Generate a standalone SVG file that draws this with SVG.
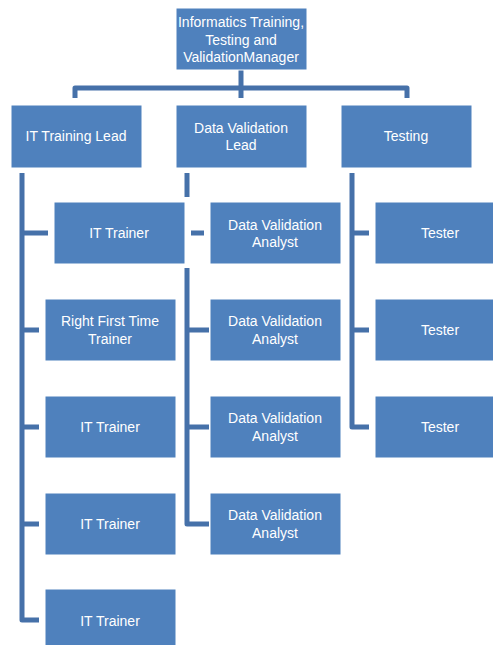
<svg xmlns="http://www.w3.org/2000/svg" width="493" height="645" viewBox="0 0 493 645">
<style>
.box{fill:#4f81bd;stroke:#ffffff;stroke-width:1}
.lbl{fill:#ffffff;font-family:"Liberation Sans",Arial,sans-serif;font-size:14px;text-anchor:middle}
.con{fill:none;stroke:#4671a9;stroke-width:5;stroke-linejoin:round}
</style>
<rect width="493" height="645" fill="#ffffff"/>
<g id="connectors">
<path class="con" d="M75,98 V88 H407 V98"/>
<path class="con" d="M241,70 V98"/>
<path class="con" d="M22,173 V620 H39"/>
<path class="con" d="M22,233 H48 M22,330 H39 M22,427 H39 M22,524 H39"/>
<path class="con" d="M187,173 V197"/>
<path class="con" d="M187,268 V524 H209"/>
<path class="con" d="M187,330 H209 M187,427 H209 M191,233 H204"/>
<path class="con" d="M352,173 V427 H369"/>
<path class="con" d="M352,233 H369 M352,330 H369"/>
</g>
<g id="manager"><rect class="box" x="176" y="8" width="131" height="62"/>
<text class="lbl" x="241" y="27">Informatics Training,</text><text class="lbl" x="241" y="45">Testing and</text><text class="lbl" x="241" y="62">ValidationManager</text></g>
<g id="it-lead"><rect class="box" x="11" y="105" width="131" height="63"/><text class="lbl" x="76" y="141">IT Training Lead</text></g>
<g id="dv-lead"><rect class="box" x="176" y="105" width="131" height="63"/><text class="lbl" x="241" y="133">Data Validation</text><text class="lbl" x="241" y="150">Lead</text></g>
<g id="testing"><rect class="box" x="341" y="105" width="131" height="63"/><text class="lbl" x="406" y="141">Testing</text></g>
<g id="it-trainer-1"><rect class="box" x="54" y="202" width="131" height="62"/><text class="lbl" x="119" y="238">IT Trainer</text></g>
<g id="rft-trainer"><rect class="box" x="45" y="299" width="131" height="62"/><text class="lbl" x="110" y="326">Right First Time</text><text class="lbl" x="110" y="344">Trainer</text></g>
<g id="it-trainer-2"><rect class="box" x="45" y="396" width="131" height="62"/><text class="lbl" x="110" y="432">IT Trainer</text></g>
<g id="it-trainer-3"><rect class="box" x="45" y="493" width="131" height="62"/><text class="lbl" x="110" y="529">IT Trainer</text></g>
<g id="it-trainer-4"><rect class="box" x="45" y="589" width="131" height="62"/><text class="lbl" x="110" y="626">IT Trainer</text></g>
<g id="dva-1"><rect class="box" x="210" y="202" width="131" height="62"/><text class="lbl" x="275" y="230">Data Validation</text><text class="lbl" x="275" y="247">Analyst</text></g>
<g id="dva-2"><rect class="box" x="210" y="299" width="131" height="62"/><text class="lbl" x="275" y="326">Data Validation</text><text class="lbl" x="275" y="344">Analyst</text></g>
<g id="dva-3"><rect class="box" x="210" y="396" width="131" height="62"/><text class="lbl" x="275" y="423">Data Validation</text><text class="lbl" x="275" y="441">Analyst</text></g>
<g id="dva-4"><rect class="box" x="210" y="493" width="131" height="62"/><text class="lbl" x="275" y="520">Data Validation</text><text class="lbl" x="275" y="538">Analyst</text></g>
<g id="tester-1"><rect class="box" x="375" y="202" width="131" height="62"/><text class="lbl" x="440" y="238">Tester</text></g>
<g id="tester-2"><rect class="box" x="375" y="299" width="131" height="62"/><text class="lbl" x="440" y="335">Tester</text></g>
<g id="tester-3"><rect class="box" x="375" y="396" width="131" height="62"/><text class="lbl" x="440" y="432">Tester</text></g>
</svg>
